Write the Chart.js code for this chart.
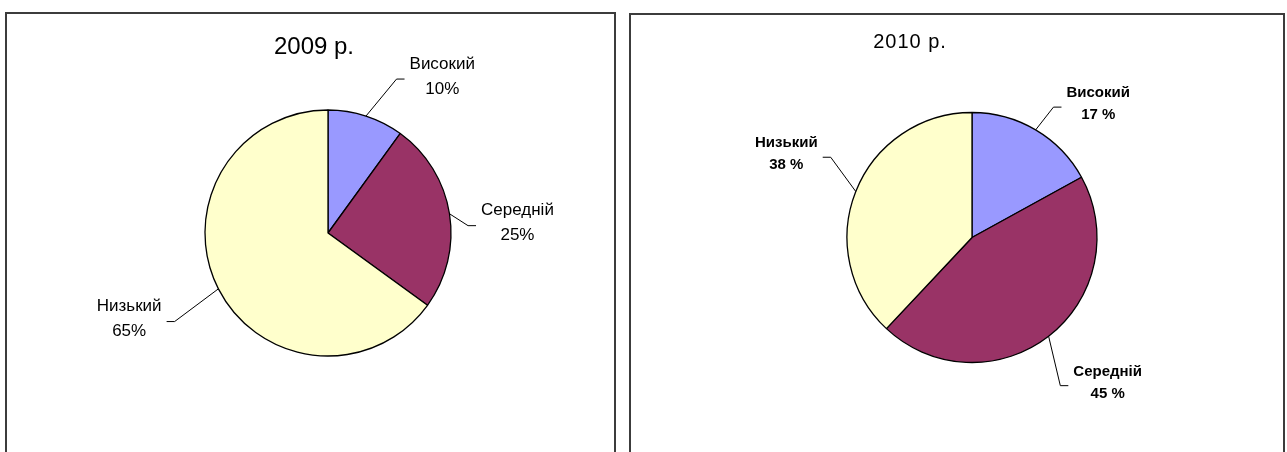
<!DOCTYPE html>
<html lang="uk">
<head>
<meta charset="UTF-8">
<title>Рівні 2009 і 2010 р.</title>
<script src="https://cdn.jsdelivr.net/npm/chart.js"></script>
<style>
  body { margin: 0; background: #fff; width: 1287px; height: 452px; overflow: hidden; position: relative; }
  .box { position: absolute; border: 2px solid #3c3c3c; background: #fff; }
  #box2009 { left: 5px; top: 12px; width: 607px; height: 460px; }
  #box2010 { left: 629px; top: 13px; width: 652px; height: 460px; }
  canvas { display: block; }
</style>
</head>
<body>
<div class="box" id="box2009"><canvas id="chart2009" width="607" height="438"></canvas></div>
<div class="box" id="box2010"><canvas id="chart2010" width="652" height="437"></canvas></div>
<script>
const categories = ['Високий', 'Середній', 'Низький'];
const values2009 = [10, 25, 65];
const values2010 = [17, 45, 38];
const sliceColors = ['#9999FF', '#993366', '#FFFFCC'];

// заголовок и подписи с выносками, как в Excel
const excelLabels = {
    id: 'excelLabels',
    afterDatasetsDraw(chart, args, opts) {
        const ctx = chart.ctx;
        const meta = chart.getDatasetMeta(0);
        const values = chart.data.datasets[0].data;
        const cx = meta.data[0].x, cy = meta.data[0].y;
        ctx.save();
        ctx.fillStyle = '#000';
        ctx.font = opts.titleFont;
        ctx.textAlign = 'center';
        ctx.textBaseline = 'alphabetic';
        ctx.letterSpacing = opts.titleSpacing || '0px';
        ctx.fillText(opts.title, cx + opts.titleDx, opts.titleY);

        ctx.letterSpacing = '0px';
        ctx.font = opts.font;
        ctx.textBaseline = 'middle';
        ctx.strokeStyle = '#000';
        ctx.lineWidth = 1;
        meta.data.forEach((arc, i) => {
            const r = arc.outerRadius;
            const mid = (arc.startAngle + arc.endAngle) / 2;
            const [dA, k] = opts.leaders[i];
            const a = mid + dA * Math.PI / 180;
            const x0 = cx + Math.cos(mid) * r, y0 = cy + Math.sin(mid) * r;
            const x1 = cx + Math.cos(a) * r * k, y1 = cy + Math.sin(a) * r * k;
            const dir = x1 >= cx ? 1 : -1;
            const x2 = x1 + dir * 8;
            ctx.beginPath();
            ctx.moveTo(x0, y0);
            ctx.lineTo(x1, y1);
            ctx.lineTo(x2, y1);
            ctx.stroke();
            const lines = [chart.data.labels[i], values[i] + opts.suffix];
            const w = Math.max(...lines.map(t => ctx.measureText(t).width));
            const bx = x2 + dir * (5 + w / 2);
            ctx.textAlign = 'center';
            ctx.fillText(lines[0], bx, y1 + opts.lineOffsets[0]);
            ctx.fillText(lines[1], bx, y1 + opts.lineOffsets[1]);
        });
        ctx.restore();
    }
};

function makePie(id, values, radius, padding, labelOpts) {
    return new Chart(document.getElementById(id), {
        type: 'pie',
        data: {
            labels: categories,
            datasets: [{
                data: values,
                backgroundColor: sliceColors,
                borderColor: '#000',
                borderWidth: 1.3,
                radius: radius
            }]
        },
        options: {
            responsive: false,
            animation: false,
            layout: { padding: padding },
            plugins: {
                legend: { display: false },
                tooltip: { enabled: false },
                excelLabels: labelOpts
            }
        },
        plugins: [excelLabels]
    });
}

makePie('chart2009', values2009, 123, { left: 35, right: 0, top: 0, bottom: 0 }, {
    title: '2009 р.',
    titleFont: '24px Arial, "Liberation Sans", sans-serif',
    titleDx: -14,
    titleY: 40,
    font: '17px Arial, "Liberation Sans", sans-serif',
    suffix: '%',
    lineOffsets: [-15, 10],
    leaders: [[6, 1.37], [6, 1.14], [-3, 1.44]]
});

makePie('chart2010', values2010, 125, { left: 30, right: 0, top: 8, bottom: 0 }, {
    title: '2010 р.',
    titleFont: '20px Arial, "Liberation Sans", sans-serif',
    titleSpacing: '1px',
    titleDx: -62,
    titleY: 33,
    font: 'bold 15px Arial, "Liberation Sans", sans-serif',
    suffix: ' %',
    lineOffsets: [-14, 8],
    leaders: [[1.4, 1.23], [7, 1.38], [8, 1.30]]
});
</script>
</body>
</html>
